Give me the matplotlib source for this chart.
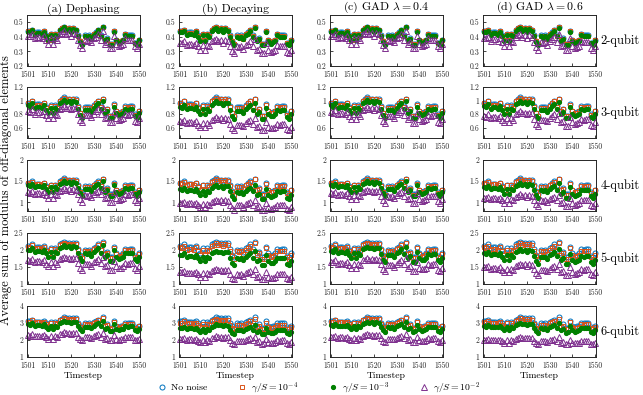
"""Off-diagonal coherence under four noise channels, 2- to 6-qubit rows."""

import matplotlib
matplotlib.use("Agg")
import matplotlib.pyplot as plt

plt.rcParams["font.family"] = ["cmr10", "DejaVu Serif"]
plt.rcParams["mathtext.fontset"] = "cm"
plt.rcParams["axes.formatter.use_mathtext"] = True

timesteps = list(range(1501, 1551))

panel_titles = ["(a) Dephasing", "(b) Decaying",
                r"(c) GAD $\lambda = 0.4$", r"(d) GAD $\lambda = 0.6$"]
row_labels = ["2-qubit", "3-qubit", "4-qubit", "5-qubit", "6-qubit"]
series_labels = ["No noise", r"$\gamma/S = 10^{-4}$",
                 r"$\gamma/S = 10^{-3}$", r"$\gamma/S = 10^{-2}$"]

# noiseless values, one list per row
clean_2q = [0.44, 0.44, 0.45, 0.42, 0.43, 0.43, 0.42, 0.44, 0.41, 0.38,
            0.42, 0.38, 0.42, 0.41, 0.45, 0.46, 0.47, 0.45, 0.46, 0.44,
            0.46, 0.45, 0.41, 0.37, 0.35, 0.41, 0.40, 0.41, 0.39, 0.42,
            0.43, 0.45, 0.41, 0.47, 0.38, 0.39, 0.35, 0.35, 0.44, 0.38,
            0.36, 0.37, 0.38, 0.42, 0.41, 0.41, 0.41, 0.36, 0.35, 0.38]
clean_3q = [0.97, 0.95, 1.00, 0.93, 0.95, 0.95, 0.93, 0.97, 0.90, 0.85,
            0.93, 0.85, 0.93, 0.90, 1.00, 1.02, 1.05, 1.02, 1.03, 1.00,
            1.03, 1.02, 0.92, 0.82, 0.78, 0.90, 0.90, 0.90, 0.87, 0.93,
            0.97, 1.00, 0.92, 1.03, 0.85, 0.88, 0.78, 0.78, 0.95, 0.85,
            0.82, 0.83, 0.85, 0.92, 0.90, 0.92, 0.92, 0.80, 0.78, 0.85]
clean_4q = [1.47, 1.45, 1.50, 1.42, 1.44, 1.44, 1.42, 1.47, 1.38, 1.30,
            1.42, 1.30, 1.42, 1.38, 1.50, 1.53, 1.57, 1.52, 1.54, 1.50,
            1.54, 1.53, 1.40, 1.27, 1.20, 1.38, 1.37, 1.38, 1.33, 1.42,
            1.46, 1.50, 1.40, 1.56, 1.30, 1.34, 1.20, 1.20, 1.46, 1.30,
            1.25, 1.27, 1.30, 1.40, 1.38, 1.40, 1.40, 1.24, 1.20, 1.30]
clean_5q = [2.12, 2.10, 2.17, 2.05, 2.08, 2.08, 2.05, 2.12, 2.00, 1.90,
            2.05, 1.90, 2.05, 2.00, 2.17, 2.20, 2.25, 2.20, 2.22, 2.17,
            2.22, 2.20, 2.02, 1.85, 1.78, 2.00, 1.98, 2.00, 1.93, 2.05,
            2.10, 2.17, 2.02, 2.25, 1.90, 1.95, 1.78, 1.78, 2.10, 1.90,
            1.83, 1.85, 1.90, 2.02, 2.00, 2.02, 2.02, 1.82, 1.78, 1.90]
clean_6q = [3.12, 3.10, 3.20, 3.05, 3.08, 3.08, 3.05, 3.12, 2.98, 2.85,
            3.05, 2.85, 3.05, 2.98, 3.20, 3.25, 3.35, 3.28, 3.30, 3.22,
            3.30, 3.27, 3.00, 2.80, 2.70, 2.98, 2.95, 2.98, 2.90, 3.05,
            3.12, 3.20, 3.00, 3.33, 2.85, 2.92, 2.70, 2.72, 3.12, 2.85,
            2.77, 2.80, 2.85, 3.00, 2.98, 3.00, 3.00, 2.75, 2.70, 2.85]
clean_rows = [clean_2q, clean_3q, clean_4q, clean_5q, clean_6q]

# fraction of the noiseless value kept, read per panel
# [row][panel] -> (1e-4, 1e-3, 1e-2)
kept = [
    [(0.995, 0.99, 0.93), (0.995, 0.98, 0.82), (0.995, 0.99, 0.93), (0.995, 0.985, 0.89)],
    [(0.99, 0.96, 0.87), (0.99, 0.94, 0.72), (0.99, 0.96, 0.86), (0.99, 0.95, 0.80)],
    [(0.99, 0.96, 0.85), (0.99, 0.90, 0.68), (0.99, 0.96, 0.83), (0.99, 0.93, 0.76)],
    [(0.985, 0.95, 0.80), (0.98, 0.88, 0.64), (0.985, 0.93, 0.78), (0.98, 0.90, 0.71)],
    [(0.985, 0.935, 0.73), (0.97, 0.87, 0.66), (0.985, 0.92, 0.70), (0.975, 0.90, 0.65)],
]

y_limits = [(0.2, 0.55), (0.45, 1.2), (0.8, 2.0), (1.0, 2.5), (1.0, 4.0)]
y_ticks = [[0.2, 0.3, 0.4, 0.5], [0.6, 0.8, 1.0, 1.2], [1.0, 1.5, 2.0],
           [1.0, 1.5, 2.0, 2.5], [1, 2, 3, 4]]
x_ticks = [1501, 1510, 1520, 1530, 1540, 1550]

W, H = 643, 395
col_left = [27, 179, 330, 483]
row_top = [15, 87, 160, 233, 306]
ax_w, ax_h = 113, 51

fig = plt.figure(figsize=(W / 100, H / 100), dpi=100)

handles = []
for r, clean in enumerate(clean_rows):
    for c in range(4):
        ax = fig.add_axes([col_left[c] / W, 1 - (row_top[r] + ax_h) / H,
                           ax_w / W, ax_h / H])
        k4, k3, k2 = kept[r][c]
        h0, = ax.plot(timesteps, clean, "o", ls="none", ms=3.6, mfc="none",
                      mec="#0072BD", mew=0.7, clip_on=False)
        h1, = ax.plot(timesteps, [v * k4 for v in clean], "s", ls="none",
                      ms=2.6, mfc="none", mec="#D95319", mew=0.7, clip_on=False)
        h2, = ax.plot(timesteps, [v * k3 for v in clean], ".", ls="none",
                      ms=5.5, color="#008000", clip_on=False)
        h3, = ax.plot(timesteps, [v * k2 for v in clean], "^", ls="none",
                      ms=3.8, mfc="none", mec="#7E2F8E", mew=0.7, clip_on=False)
        if not handles:
            handles = [h0, h1, h2, h3]
        ax.set_xlim(1500.6, 1550.4)
        ax.set_ylim(*y_limits[r])
        ax.set_xticks(x_ticks)
        ax.set_xticklabels([str(t) for t in x_ticks])
        ax.set_yticks(y_ticks[r])
        ax.set_yticklabels([f"{t:g}" for t in y_ticks[r]])
        ax.tick_params(direction="in", length=2, width=0.6, labelsize=5.5,
                       colors="#262626")
        ax.tick_params(axis="x", pad=3.5)
        ax.tick_params(axis="y", pad=2.5)
        for sp in ax.spines.values():
            sp.set_color("#262626")
            sp.set_linewidth(0.7)
        if r == 0:
            ax.set_title(panel_titles[c], fontsize=8.5, pad=1)
        if r == 4:
            ax.set_xlabel("Timestep", fontsize=7, labelpad=1)
        if c == 3:
            ax.text(1.04, 0.5, row_labels[r], transform=ax.transAxes,
                    fontsize=9, va="center", ha="left")

fig.text(6 / W, 0.52, "Average sum of modulus of off-diagonal elements",
         rotation=90, fontsize=9, ha="center", va="center")

fig.legend(handles, series_labels, loc="center", ncol=4, frameon=False,
           bbox_to_anchor=(318 / W, 1 - 388 / H), fontsize=7,
           handletextpad=0.3, columnspacing=3.0, handlelength=1.2)

fig.savefig("out.png", dpi=100)
